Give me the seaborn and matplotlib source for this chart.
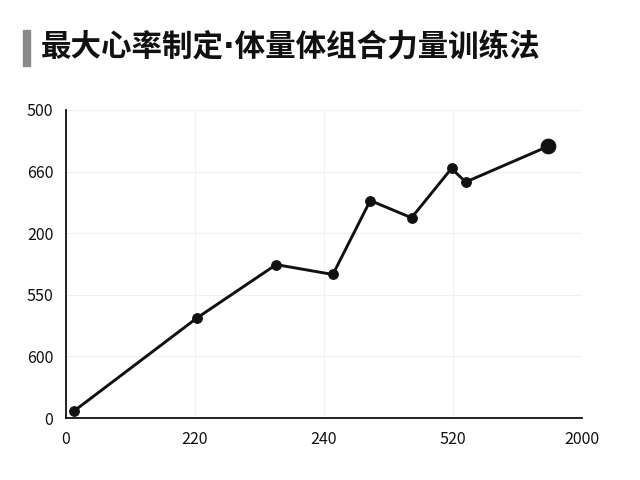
import matplotlib
matplotlib.use("Agg")
import matplotlib.pyplot as plt
import matplotlib.patches as mpatches
import seaborn as sns
import pandas as pd

# values (axis units = tick index)
x_vals = [0.06, 1.02, 1.63, 2.07, 2.36, 2.68, 2.99, 3.10, 3.74]
y_vals = [0.11, 1.63, 2.49, 2.33, 3.53, 3.25, 4.05, 3.83, 4.41]
x_tick_labels = ["0", "220", "240", "520", "2000"]
y_tick_labels = ["0", "600", "550", "200", "660", "500"]
title = "最大心率制定·体量体组合力量训练法"

df = pd.DataFrame({"x": x_vals, "y": y_vals})

sns.set_style("whitegrid")
plt.rcParams["font.family"] = ["Noto Sans CJK SC", "DejaVu Sans"]

fig = plt.figure(figsize=(6.4, 4.8), dpi=100)
ax = fig.add_axes([0.103, 0.129, 0.806, 0.642])

sns.lineplot(data=df, x="x", y="y", ax=ax, color="#111111", linewidth=2.1,
             marker="o", markersize=7, markeredgecolor="#111111")
sns.scatterplot(data=df.tail(1), x="x", y="y", ax=ax, color="#111111",
                s=110, edgecolor="#111111", zorder=5)

ax.set_xlim(0, 4)
ax.set_ylim(0, 5)
ax.set_xticks(range(len(x_tick_labels)))
ax.set_xticklabels(x_tick_labels)
ax.set_yticks(range(len(y_tick_labels)))
ax.set_yticklabels(y_tick_labels)
ax.set_xlabel("")
ax.set_ylabel("")
ax.tick_params(axis="both", labelsize=11.5, colors="#111111", length=5,
               width=1.1, direction="out", pad=4)

for side in ["top", "right"]:
    ax.spines[side].set_visible(False)
for side in ["left", "bottom"]:
    ax.spines[side].set_color("#111111")
    ax.spines[side].set_linewidth(1.3)
ax.grid(True, color="#f0f0f0", linewidth=0.8)
ax.set_axisbelow(True)

# title with grey bar; DejaVu first so the middle dot stays small
fig.patches.append(mpatches.Rectangle((23 / 640, 1 - 66 / 480), 7 / 640, 36 / 480,
                                      transform=fig.transFigure, color="#8a8a8a"))
fig.text(41 / 640, 1 - 47 / 480, title, fontsize=22, fontweight="bold",
         va="center", ha="left", color="#111111",
         family=["DejaVu Sans", "Noto Sans CJK SC"])

fig.savefig("out.png", dpi=100)
